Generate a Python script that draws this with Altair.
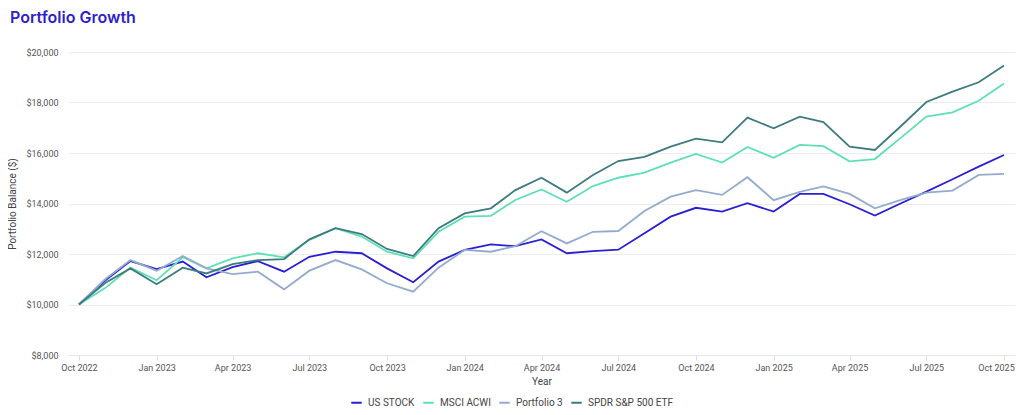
import altair as alt
import pandas as pd

months = [
    "2022-10-01", "2022-11-01", "2022-12-01",
    "2023-01-01", "2023-02-01", "2023-03-01", "2023-04-01", "2023-05-01", "2023-06-01",
    "2023-07-01", "2023-08-01", "2023-09-01", "2023-10-01", "2023-11-01", "2023-12-01",
    "2024-01-01", "2024-02-01", "2024-03-01", "2024-04-01", "2024-05-01", "2024-06-01",
    "2024-07-01", "2024-08-01", "2024-09-01", "2024-10-01", "2024-11-01", "2024-12-01",
    "2025-01-01", "2025-02-01", "2025-03-01", "2025-04-01", "2025-05-01", "2025-06-01",
    "2025-07-01", "2025-08-01", "2025-09-01", "2025-10-01",
]

us_stock = [10000, 10950, 11720, 11400, 11700, 11080, 11480, 11720, 11300, 11890,
            12090, 12030, 11430, 10880, 11700, 12160, 12380, 12310, 12580, 12030,
            12110, 12170, 12820, 13480, 13830, 13680, 14010, 13680, 14380, 14380,
            13970, 13520, 14010, 14470, 14960, 15460, 15920]
msci_acwi = [10000, 10650, 11460, 10960, 11870, 11430, 11830, 12030, 11870, 12560,
             13020, 12690, 12090, 11830, 12880, 13480, 13510, 14140, 14560, 14070,
             14690, 15020, 15220, 15620, 15960, 15620, 16240, 15810, 16320, 16270,
             15670, 15760, 16610, 17440, 17610, 18070, 18750]
portfolio_3 = [10000, 11000, 11760, 11340, 11920, 11430, 11200, 11300, 10600, 11340,
               11760, 11390, 10840, 10510, 11460, 12160, 12090, 12310, 12900, 12420,
               12880, 12910, 13700, 14270, 14530, 14340, 15040, 14130, 14460, 14680,
               14380, 13810, 14140, 14430, 14510, 15130, 15170]
spdr = [10000, 10850, 11430, 10800, 11460, 11230, 11600, 11760, 11800, 12580,
        13020, 12790, 12200, 11920, 13020, 13610, 13810, 14530, 15020, 14430,
        15130, 15680, 15850, 16250, 16570, 16420, 17400, 16980, 17440, 17220,
        16250, 16120, 17070, 18020, 18430, 18800, 19470]

series_names = ["US STOCK", "MSCI ACWI", "Portfolio 3", "SPDR S&P 500 ETF"]
series_colors = ["#2a1fd1", "#5fe0b2", "#93abcf", "#3d7b81"]
series_values = [us_stock, msci_acwi, portfolio_3, spdr]

rows = []
for name, vals in zip(series_names, series_values):
    for m, v in zip(months, vals):
        rows.append({"date": m, "series": name, "value": v})
df = pd.DataFrame(rows)

tick_dates = [(2022, 10), (2023, 1), (2023, 4), (2023, 7), (2023, 10), (2024, 1), (2024, 4),
              (2024, 7), (2024, 10), (2025, 1), (2025, 4), (2025, 7), (2025, 10)]
tick_values = [alt.DateTime(year=y, month=m, date=1, utc=True) for y, m in tick_dates]

x = alt.X(
    "date:T",
    title="Year",
    scale=alt.Scale(
        type="utc",
        domain=[alt.DateTime(year=2022, month=9, date=18, utc=True),
                alt.DateTime(year=2025, month=10, date=14, utc=True)],
        nice=False,
    ),
    axis=alt.Axis(
        values=tick_values,
        labelExpr="utcFormat(datum.value, '%b %Y')",
        labelOffset={"condition": {"test": "datum.value >= utc(2025, 8, 1)", "value": -8},
                     "value": 0},
        grid=False,
        domainColor="#e6e6e6",
        tickColor="#dddddd",
        tickSize=5,
        labelColor="#555555",
        labelFontSize=9,
        titleFontSize=10,
        titleFontWeight="normal",
        titleColor="#444444",
        labelPadding=3,
        titlePadding=4,
    ),
)

y = alt.Y(
    "value:Q",
    title="Portfolio Balance ($)",
    scale=alt.Scale(domain=[8000, 20000], nice=False),
    axis=alt.Axis(
        values=[8000, 10000, 12000, 14000, 16000, 18000, 20000],
        format="$,.0f",
        gridColor="#ececec",
        domain=False,
        ticks=False,
        labelColor="#555555",
        labelFontSize=9,
        labelPadding=10,
        titleFontSize=10,
        titleFontWeight="normal",
        titleColor="#444444",
        titlePadding=8,
    ),
)

color = alt.Color(
    "series:N",
    scale=alt.Scale(domain=series_names, range=series_colors),
    sort=series_names,
    legend=alt.Legend(
        orient="none",
        legendX=282,
        legendY=344,
        direction="horizontal",
        title=None,
        symbolType="stroke",
        symbolStrokeWidth=2,
        symbolSize=110,
        labelFontSize=10,
        labelColor="#444444",
        labelOffset=5,
        columnPadding=4,
    ),
)

chart = (
    alt.Chart(df)
    .mark_line(strokeWidth=1.8)
    .encode(
        x=x,
        y=y,
        color=color,
        order=alt.Order("date:T"),
    )
    .properties(
        width=947,
        height=303,
        autosize=alt.AutoSizeParams(type="none"),
        padding={"left": 60, "top": 44, "right": 1, "bottom": 58},
        title=alt.TitleParams(
            "Portfolio Growth",
            anchor="start",
            frame="group",
            font="Inter",
            fontSize=16,
            fontWeight=600,
            color="#2f1fc8",
            dx=-58,
            offset=22,
        ),
    )
    .configure(font="Roboto")
    .configure_view(stroke=None)
)

chart.save("out.html", embed_options={"renderer": "svg", "actions": False})
